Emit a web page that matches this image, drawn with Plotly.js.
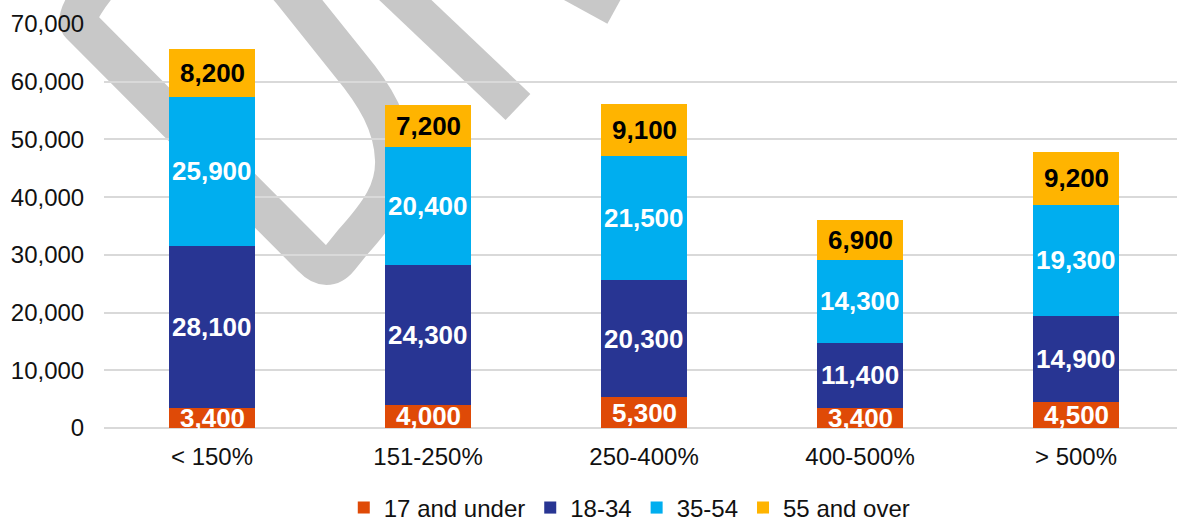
<!DOCTYPE html>
<html>
<head>
<meta charset="utf-8">
<script src="https://cdn.plot.ly/plotly-3.0.1.min.js"></script>
<style>html,body{margin:0;padding:0;background:#fff;}#chart{width:1177px;height:521px;}</style>
</head>
<body>
<div id="chart"></div>
<script>
// ---- data ----
var categories = ['< 150%', '151-250%', '250-400%', '400-500%', '> 500%'];
var seriesNames = ['17 and under', '18-34', '35-54', '55 and over'];
var age17Under = [3400, 4000, 5300, 3400, 4500];
var age18to34 = [28100, 24300, 20300, 11400, 14900];
var age35to54 = [25900, 20400, 21500, 14300, 19300];
var age55Over = [8200, 7200, 9100, 6900, 9200];
var yTickValues = [0, 10000, 20000, 30000, 40000, 50000, 60000, 70000];

// ---- styles ----
var seriesValues = [age17Under, age18to34, age35to54, age55Over];
var seriesColors = ['#DF4A07', '#283593', '#00AEEF', '#FFB400'];
var labelColors = ['#FFFFFF', '#FFFFFF', '#FFFFFF', '#000000'];
var FONT = 'Liberation Sans, Arial, Helvetica, sans-serif';

var W = 1177, H = 521;
var M = {l: 104, r: 0, t: 24, b: 93, autoexpand: false};
var plotW = W - M.l - M.r, plotH = H - M.t - M.b;
var catWidthPx = 216;

var traces = seriesNames.map(function (name, i) {
  return {
    type: 'bar',
    name: name,
    x: categories,
    y: seriesValues[i],
    width: 0.4,
    marker: {color: seriesColors[i], line: {width: 0}},
    hoverinfo: 'x+y+name'
  };
});

function fmt(v) { return v.toLocaleString('en-US'); }

var annotations = [];
categories.forEach(function (cat, c) {
  var base = 0;
  seriesValues.forEach(function (vals, i) {
    var v = vals[c];
    annotations.push({
      x: c, y: base + v / 2, xref: 'x', yref: 'y',
      text: fmt(v), showarrow: false,
      font: {family: FONT, size: 26, color: labelColors[i], weight: 'bold'},
      xanchor: 'center', yanchor: 'middle'
    });
    base += v;
  });
});

// ---- decorative watermark (pixel coords -> paper coords) ----
function px(x) { return ((x - M.l) / plotW).toFixed(4); }
function py(y) { return ((M.t + plotH - y) / plotH).toFixed(4); }
function P(x, y) { return px(x) + ',' + py(y); }
var wmColor = '#C8C8C8';
var wmShapes = [
  {
    type: 'path', xref: 'paper', yref: 'paper', layer: 'below',
    path: 'M' + P(120, -40) + ' Q' + P(70, 15) + ' ' + P(80, 25) + ' L' + P(312, 258) +
          ' Q' + P(327, 274) + ' ' + P(340, 258) + ' L' + P(352, 243) +
          ' C' + P(380, 212) + ' ' + P(395, 190) + ' ' + P(394, 160) +
          ' C' + P(393, 125) + ' ' + P(375, 95) + ' ' + P(350, 65) +
          ' L' + P(290, -10) + ' L' + P(255, -50),
    line: {color: wmColor, width: 38}, fillcolor: 'rgba(0,0,0,0)'
  },
  {
    type: 'path', xref: 'paper', yref: 'paper', layer: 'below',
    path: 'M' + P(360, -43) + ' L' + P(518, 107),
    line: {color: wmColor, width: 36}, fillcolor: 'rgba(0,0,0,0)'
  },
  {
    type: 'path', xref: 'paper', yref: 'paper', layer: 'below',
    path: 'M' + P(450, -83) + ' L' + P(616, 8),
    line: {color: wmColor, width: 36}, fillcolor: 'rgba(0,0,0,0)'
  }
];

var layout = {
  width: W, height: H,
  margin: M,
  paper_bgcolor: '#FFFFFF',
  plot_bgcolor: 'rgba(0,0,0,0)',
  barmode: 'stack',
  font: {family: FONT, size: 24, color: '#111111'},
  showlegend: true,
  legend: {
    orientation: 'h', x: 0.49, xanchor: 'center', y: -0.198, yanchor: 'middle',
    traceorder: 'normal', font: {family: FONT, size: 24, color: '#111111'},
    itemclick: false, itemdoubleclick: false
  },
  xaxis: {
    type: 'category',
    range: [-0.5, -0.5 + plotW / catWidthPx],
    showgrid: false, showline: false, zeroline: false,
    ticks: 'outside', ticklen: 7, tickcolor: 'rgba(0,0,0,0)',
    tickfont: {family: FONT, size: 24, color: '#111111'}
  },
  yaxis: {
    range: [0, 70000],
    tickvals: yTickValues,
    tickformat: ',d',
    showgrid: true, gridcolor: '#D9D9D9', gridwidth: 2,
    zeroline: true, zerolinecolor: '#D9D9D9', zerolinewidth: 2,
    showline: false,
    ticks: 'outside', ticklen: 14, tickcolor: 'rgba(0,0,0,0)',
    tickfont: {family: FONT, size: 24, color: '#111111'}
  },
  annotations: annotations,
  shapes: wmShapes
};

Plotly.newPlot('chart', traces, layout, {displayModeBar: false, staticPlot: true});
</script>
</body>
</html>
